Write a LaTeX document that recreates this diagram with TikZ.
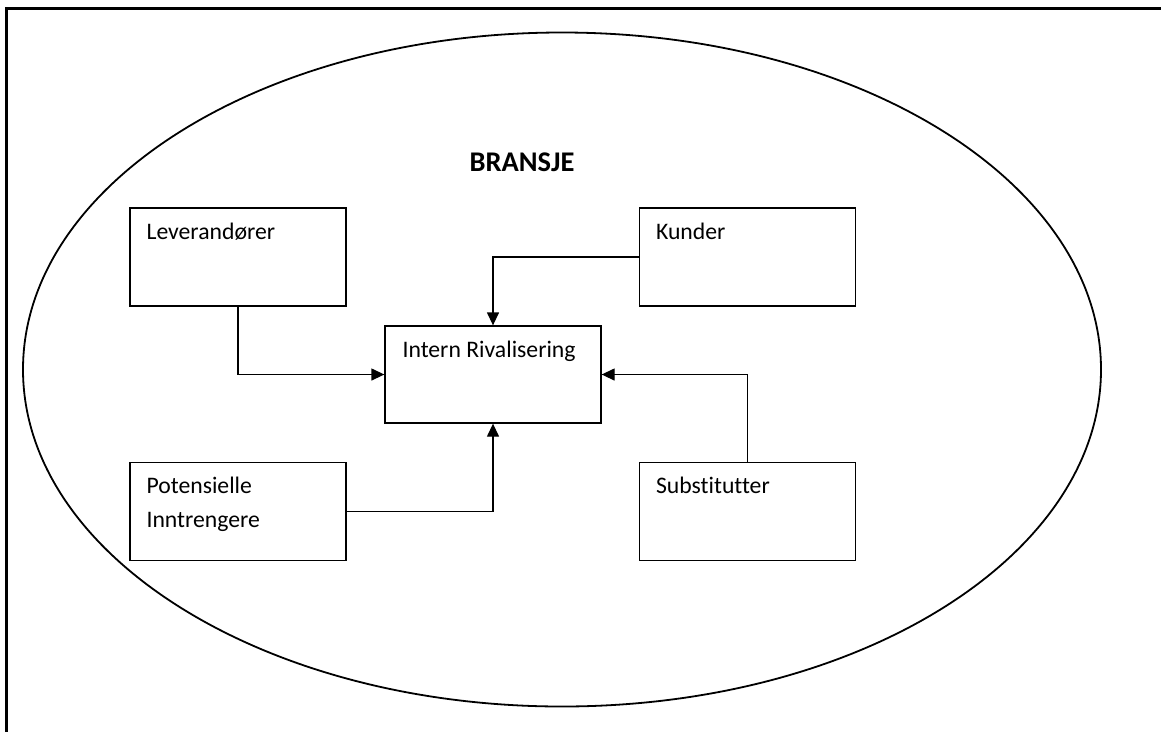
\documentclass[tikz,border=0pt]{standalone}
\usepackage{fontspec}
\setmainfont{Carlito}[Ligatures=NoCommon]
\usetikzlibrary{arrows.meta}
\begin{document}
\begin{tikzpicture}[x=1pt,y=-1pt,
  box/.style={draw,line width=1.3pt,minimum width=216pt,minimum height=98pt,inner sep=0pt},
  lbl/.style={font=\fontsize{23.7}{34}\selectfont,inner sep=0pt,anchor=base west},
  flow/.style={line width=1.3pt,-{Triangle[length=13pt,width=12pt]}}]
  \useasboundingbox (0,0) rectangle (1161,732);
  % page frame: top and left edges
  \draw[line width=2.2pt] (1161,8.5) -- (6.5,8.5) -- (6.5,732);
  % industry boundary
  \draw[line width=1.8pt] (562,369.5) ellipse [x radius=539, y radius=337];
  \node[font=\fontsize{28.5}{34}\selectfont\bfseries,inner sep=0pt,anchor=base] (title) at (522,171) {BRANSJE};
  % forces
  \node[box] (lev) at (238,257) {};
  \node[box] (kun) at (747.5,257) {};
  \node[box,minimum height=97pt] (ir) at (493,374.5) {};
  \node[box] (pot) at (238,511.5) {};
  \node[box] (sub) at (747.5,511.5) {};
  \node[lbl] (levt) at ([xshift=17pt,yshift=-32.5pt]lev.north west) {Leverandører};
  \node[lbl] (kunt) at ([xshift=17pt,yshift=-32.5pt]kun.north west) {Kunder};
  \node[lbl] (irt) at ([xshift=18pt,yshift=-32pt]ir.north west) {Intern Rivalisering};
  % two-line label: its base anchor sits on the second line
  \node[lbl,align=left] (pott) at ([xshift=17pt,yshift=-66pt]pot.north west) {Potensielle\\Inntrengere};
  \node[lbl] (subt) at ([xshift=17pt,yshift=-32pt]sub.north west) {Substitutter};
  % connectors into the central box
  \draw[flow] (lev.south) |- (ir.west);
  \draw[flow] (kun.west) -| (ir.north);
  \draw[flow] (sub.north) |- (ir.east);
  \draw[flow] (pot.east) -| (ir.south);
\end{tikzpicture}
\end{document}
